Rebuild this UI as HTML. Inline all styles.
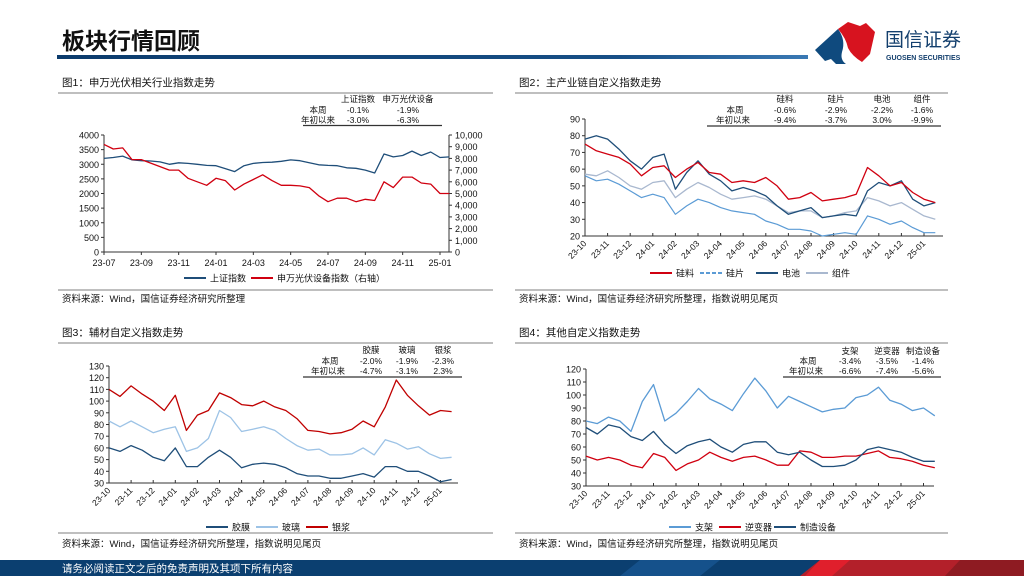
<!DOCTYPE html>
<html><head><meta charset="utf-8"><style>
html,body{margin:0;padding:0;background:#fff;}
svg{display:block;font-family:"Liberation Sans","Noto Sans CJK SC",sans-serif;}
</style></head><body>
<svg id="page" width="1024" height="576" viewBox="0 0 1024 576" xmlns="http://www.w3.org/2000/svg">
<defs>
<linearGradient id="hg" x1="0" x2="1" y1="0" y2="0"><stop offset="0" stop-color="#0b3b6c"/><stop offset="0.75" stop-color="#174f86"/><stop offset="1" stop-color="#3a79b4"/></linearGradient>
</defs>
<text x="62" y="49" font-size="23" font-weight="bold" fill="#111">板块行情回顾</text>
<rect x="57" y="55" width="751" height="4" fill="url(#hg)"/>
<g>
<path d="M815 50 L838 29 Q846 40 842 52 Q840 60 846 64 L836 64 L831 59 L825 61 Z" fill="#0f4a7e"/>
<path d="M838 29 L848 22 L860 26 L866 23 L875 32 L870 54 L862 62 Q852 56 848 48 Q846 38 838 29 Z" fill="#d7131f"/>
<text x="885" y="46" font-size="19" fill="#133f6d">国信证券</text>
<text x="886" y="60" font-size="7" font-weight="bold" fill="#133f6d">GUOSEN SECURITIES</text>
</g>
<rect x="0" y="560" width="1024" height="16" fill="#0b3f70"/>
<path d="M640 560 L720 560 L700 576 L620 576 Z" fill="#1a5a97" opacity="0.7"/>
<path d="M820 560 L1024 560 L1024 576 L800 576 Z" fill="#b3202a"/>
<path d="M820 560 L850 560 L832 576 L805 576 Z" fill="#e01f2c"/>
<path d="M960 560 L1024 560 L1024 576 L945 576 Z" fill="#8e1b22"/>
<text x="62" y="572" font-size="10.5" fill="#fff">请务必阅读正文之后的免责声明及其项下所有内容</text>

<!-- Panel static texts -->
<g font-size="10.5" fill="#111">
<text x="62" y="86">图1：申万光伏相关行业指数走势</text>
<text x="519" y="86">图2：主产业链自定义指数走势</text>
<text x="62" y="336">图3：辅材自定义指数走势</text>
<text x="519" y="336">图4：其他自定义指数走势</text>
</g>
<g stroke="#999" stroke-width="1.2">
<line x1="58" y1="93" x2="493" y2="93"/><line x1="515" y1="93" x2="948" y2="93"/>
<line x1="58" y1="343" x2="493" y2="343"/><line x1="515" y1="343" x2="948" y2="343"/>
<line x1="58" y1="290" x2="493" y2="290"/><line x1="515" y1="290" x2="948" y2="290"/>
<line x1="58" y1="533" x2="493" y2="533"/><line x1="515" y1="533" x2="948" y2="533"/>
</g>
<g font-size="9.5" fill="#111">
<text x="62" y="302">资料来源：Wind，国信证券经济研究所整理</text>
<text x="519" y="302">资料来源：Wind，国信证券经济研究所整理，指数说明见尾页</text>
<text x="62" y="547">资料来源：Wind，国信证券经济研究所整理，指数说明见尾页</text>
<text x="519" y="547">资料来源：Wind，国信证券经济研究所整理，指数说明见尾页</text>
</g>

<!-- Stats tables -->
<g font-size="8.5" fill="#111" text-anchor="middle">
<text x="358" y="102">上证指数</text><text x="408" y="102">申万光伏设备</text>
<text x="318" y="113">本周</text><text x="358" y="113">-0.1%</text><text x="408" y="113">-1.9%</text>
<text x="318" y="123">年初以来</text><text x="358" y="123">-3.0%</text><text x="408" y="123">-6.3%</text>
<line x1="303" y1="125.5" x2="442" y2="125.5" stroke="#333" stroke-width="1.2"/>
</g>
<g font-size="8.5" fill="#111" text-anchor="middle">
<text x="785" y="102">硅料</text><text x="836" y="102">硅片</text><text x="882" y="102">电池</text><text x="922" y="102">组件</text>
<text x="735" y="113">本周</text><text x="785" y="113">-0.6%</text><text x="836" y="113">-2.9%</text><text x="882" y="113">-2.2%</text><text x="922" y="113">-1.6%</text>
<text x="733" y="123">年初以来</text><text x="785" y="123">-9.4%</text><text x="836" y="123">-3.7%</text><text x="882" y="123">3.0%</text><text x="922" y="123">-9.9%</text>
<line x1="707" y1="126" x2="941" y2="126" stroke="#333" stroke-width="1.2"/>
</g>
<g font-size="8.5" fill="#111" text-anchor="middle">
<text x="371" y="353">胶膜</text><text x="407" y="353">玻璃</text><text x="443" y="353">银浆</text>
<text x="330" y="364">本周</text><text x="371" y="364">-2.0%</text><text x="407" y="364">-1.9%</text><text x="443" y="364">-2.3%</text>
<text x="328" y="374">年初以来</text><text x="371" y="374">-4.7%</text><text x="407" y="374">-3.1%</text><text x="443" y="374">2.3%</text>
<line x1="303" y1="377" x2="462" y2="377" stroke="#333" stroke-width="1.2"/>
</g>
<g font-size="8.5" fill="#111" text-anchor="middle">
<text x="850" y="354">支架</text><text x="887" y="354">逆变器</text><text x="923" y="354">制造设备</text>
<text x="808" y="364">本周</text><text x="850" y="364">-3.4%</text><text x="887" y="364">-3.5%</text><text x="923" y="364">-1.4%</text>
<text x="806" y="374">年初以来</text><text x="850" y="374">-6.6%</text><text x="887" y="374">-7.4%</text><text x="923" y="374">-5.6%</text>
<line x1="783" y1="377" x2="941" y2="377" stroke="#333" stroke-width="1.2"/>
</g>
<g id="charts"></g>
</svg>
<script>
// ===== Chart 1 data (half-month steps from 23-07) =====
const c1Ticks = ["23-07","23-09","23-11","24-01","24-03","24-05","24-07","24-09","24-11","25-01"];
const c1LeftTicks = [0,500,1000,1500,2000,2500,3000,3500,4000];
const c1RightTicks = ["0","1,000","2,000","3,000","4,000","5,000","6,000","7,000","8,000","9,000","10,000"];
const c1Shanghai = [3200,3230,3280,3150,3120,3110,3080,3000,3050,3030,3000,2960,2950,2850,2750,2950,3030,3060,3070,3100,3150,3120,3050,2980,2960,2950,2880,2860,2800,2700,3350,3250,3300,3450,3300,3420,3230,3250];
const c1PV = [9200,8800,8900,7900,7900,7600,7300,7000,7000,6300,6000,5700,6300,6100,5300,5800,6200,6600,6100,5700,5700,5650,5500,4800,4300,4600,4600,4300,4500,4400,6000,5500,6400,6400,5900,5800,5000,5000];
// ===== Chart 2 data (half-month steps from 23-10) =====
const monthTicks = ["23-10","23-11","23-12","24-01","24-02","24-03","24-04","24-05","24-06","24-07","24-08","24-09","24-10","24-11","24-12","25-01"];
const c2YTicks = [20,30,40,50,60,70,80,90];
const c2Silicon = [75,71,69,67,63,56,61,62,55,60,64,58,57,52,53,52,55,50,42,43,46,41,42,43,45,61,56,50,52,46,42,40];
const c2Wafer = [56,53,54,51,47,43,45,43,33,38,42,40,37,35,34,33,29,27,24,24,23,20,21,22,21,32,30,27,29,25,22,22];
const c2Cell = [78,80,78,72,65,60,67,69,48,58,65,57,53,47,49,47,44,38,33,35,37,31,32,33,32,47,52,50,53,42,38,40];
const c2Module = [57,56,59,55,50,48,52,53,43,48,52,49,45,42,43,44,42,38,34,35,35,31,32,34,35,43,41,38,40,36,32,30];
// ===== Chart 3 data =====
const c3YTicks = [30,40,50,60,70,80,90,100,110,120,130];
const c3Film = [60,57,62,58,52,49,60,44,44,52,58,52,43,46,47,46,43,38,36,36,34,34,36,38,35,44,44,40,40,36,31,33];
const c3Glass = [83,78,83,78,73,76,78,57,60,68,92,86,74,76,78,75,68,62,58,59,54,54,55,60,54,67,64,59,61,55,51,52];
const c3Paste = [110,104,113,106,100,92,105,75,88,92,107,103,97,96,100,95,92,85,75,74,72,73,76,83,78,95,118,105,96,88,92,91];
// ===== Chart 4 data =====
const c4YTicks = [30,40,50,60,70,80,90,100,110,120];
const c4Bracket = [80,78,83,80,72,95,108,80,86,95,105,97,93,88,101,113,103,90,99,95,91,87,89,90,98,100,106,96,93,88,90,84];
const c4Inverter = [53,50,52,50,46,44,55,52,42,47,50,56,52,49,52,53,50,46,46,57,56,52,52,53,53,55,57,52,51,49,46,44];
const c4Equipment = [75,70,77,75,68,65,72,62,55,61,64,66,60,56,62,64,64,56,54,56,50,45,45,46,50,58,60,58,56,52,49,49];

const NS = "http://www.w3.org/2000/svg";
const root = document.getElementById("charts");
function mk(tag, attrs, parent) {
  const e = document.createElementNS(NS, tag);
  for (const k in attrs) e.setAttribute(k, attrs[k]);
  (parent || root).appendChild(e);
  return e;
}
function txt(x, y, s, anchor, size, parent) {
  const t = mk("text", {x: x, y: y, "font-size": size || 9, fill: "#111", "text-anchor": anchor || "start"}, parent);
  t.textContent = s;
  return t;
}
function series(vals, xf, yf, color, w, dash, name) {
  const p = mk("polyline", {points: vals.map((v, i) => xf(i).toFixed(1) + "," + yf(v).toFixed(1)).join(" "), fill: "none", stroke: color, "stroke-width": w, "stroke-linejoin": "round"});
  if (dash) p.setAttribute("stroke-dasharray", dash);
  
  
}
function legend(x, y, color, label, dash, name) {
  const g = mk("g", {});
  
  
  const l = mk("line", {x1: x, y1: y, x2: x + 22, y2: y, stroke: color, "stroke-width": 2}, g);
  if (dash) l.setAttribute("stroke-dasharray", dash);
  txt(x + 26, y + 3.5, label, "start", 9, g);
}

// ---------- Chart 1 ----------
(function () {
  const X0 = 104, step = 336 / 36, Y0 = 252, H = 117;
  const xf = i => X0 + i * step;
  const yL = v => Y0 - v / 4000 * H;
  const yR = v => Y0 - v / 10000 * H;
  const g = mk("g", {});
  
  
  mk("line", {x1: X0, y1: 135, x2: X0, y2: Y0, stroke: "#333"}, g);
  mk("line", {x1: 449, y1: 135, x2: 449, y2: Y0, stroke: "#333"}, g);
  mk("line", {x1: X0, y1: Y0, x2: 449, y2: Y0, stroke: "#333"}, g);
  c1LeftTicks.forEach(v => { mk("line", {x1: X0 - 3, y1: yL(v), x2: X0, y2: yL(v), stroke: "#333"}, g); txt(X0 - 5, yL(v) + 3.5, String(v), "end", 9, g); });
  c1RightTicks.forEach((s, i) => { const y = yR(i * 1000); mk("line", {x1: 449, y1: y, x2: 452, y2: y, stroke: "#333"}, g); txt(455, y + 3.5, s, "start", 9, g); });
  c1Ticks.forEach((s, k) => { const x = xf(k * 4); mk("line", {x1: x, y1: Y0, x2: x, y2: Y0 + 3, stroke: "#333"}, g); txt(x, Y0 + 14, s, "middle", 9, g); });
  series(c1Shanghai, xf, yL, "#1f4e79", 1.3, null, "line-shanghai-index");
  series(c1PV, xf, yR, "#d00010", 1.3, null, "line-sw-pv-equipment");
  legend(184, 278, "#1f4e79", "上证指数", null, "legend-shanghai-index");
  legend(251, 278, "#d00010", "申万光伏设备指数（右轴）", null, "legend-sw-pv-equipment");
})();

function monthChart(cfg) {
  const xf = i => cfg.x0 + i * cfg.step / 2;
  const yf = v => cfg.y0 - (v - cfg.min) / (cfg.max - cfg.min) * cfg.h;
  const g = mk("g", {});
  
  
  mk("line", {x1: cfg.x0, y1: cfg.y0 - cfg.h, x2: cfg.x0, y2: cfg.y0, stroke: "#333"}, g);
  mk("line", {x1: cfg.x0, y1: cfg.y0, x2: cfg.xEnd, y2: cfg.y0, stroke: "#333"}, g);
  cfg.yTicks.forEach(v => { mk("line", {x1: cfg.x0 - 3, y1: yf(v), x2: cfg.x0, y2: yf(v), stroke: "#333"}, g); txt(cfg.x0 - 5, yf(v) + 3.5, String(v), "end", 9, g); });
  monthTicks.forEach((s, k) => {
    const x = xf(k * 2);
    mk("line", {x1: x, y1: cfg.y0, x2: x, y2: cfg.y0 - 3, stroke: "#333"}, g);
    const t = txt(x + 2, cfg.y0 + 8, s, "end", 8.5, g);
    t.setAttribute("transform", "rotate(-45 " + (x + 2) + " " + (cfg.y0 + 8) + ")");
  });
  return {xf, yf};
}

// ---------- Chart 2 ----------
(function () {
  const a = monthChart({prefix: "chart2", x0: 585, step: 22.6, y0: 236, h: 117, min: 20, max: 90, xEnd: 943, yTicks: c2YTicks});
  series(c2Module, a.xf, a.yf, "#a9b8cf", 1.3, null, "line-module");
  series(c2Wafer, a.xf, a.yf, "#5b9bd5", 1.2, null, "line-wafer");
  series(c2Cell, a.xf, a.yf, "#1f4e79", 1.3, null, "line-cell");
  series(c2Silicon, a.xf, a.yf, "#d00010", 1.3, null, "line-silicon");
  legend(650, 273, "#d00010", "硅料", null, "legend-silicon");
  legend(700, 273, "#5b9bd5", "硅片", "4,2", "legend-wafer");
  legend(756, 273, "#1f4e79", "电池", null, "legend-cell");
  legend(806, 273, "#a9b8cf", "组件", null, "legend-module");
})();

// ---------- Chart 3 ----------
(function () {
  const a = monthChart({prefix: "chart3", x0: 109, step: 22.1, y0: 483, h: 117, min: 30, max: 130, xEnd: 458, yTicks: c3YTicks});
  series(c3Film, a.xf, a.yf, "#1f4e79", 1.3, null, "line-film");
  series(c3Glass, a.xf, a.yf, "#9dc3e6", 1.3, null, "line-glass");
  series(c3Paste, a.xf, a.yf, "#c00000", 1.3, null, "line-silver-paste");
  legend(206, 527, "#1f4e79", "胶膜", null, "legend-film");
  legend(256, 527, "#9dc3e6", "玻璃", null, "legend-glass");
  legend(306, 527, "#c00000", "银浆", null, "legend-silver-paste");
})();

// ---------- Chart 4 ----------
(function () {
  const a = monthChart({prefix: "chart4", x0: 586, step: 22.5, y0: 486, h: 117, min: 30, max: 120, xEnd: 934, yTicks: c4YTicks});
  series(c4Bracket, a.xf, a.yf, "#5b9bd5", 1.3, null, "line-bracket");
  series(c4Inverter, a.xf, a.yf, "#d00010", 1.3, null, "line-inverter");
  series(c4Equipment, a.xf, a.yf, "#1f4e79", 1.3, null, "line-equipment");
  legend(669, 527, "#5b9bd5", "支架", null, "legend-bracket");
  legend(719, 527, "#d00010", "逆变器", null, "legend-inverter");
  legend(774, 527, "#1f4e79", "制造设备", null, "legend-equipment");
})();
</script>
</body></html>
